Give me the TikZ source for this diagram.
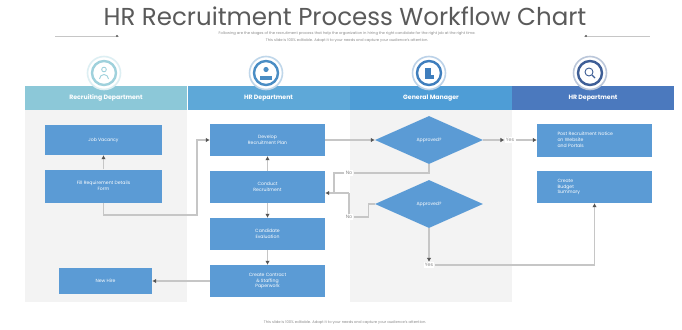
\documentclass[tikz,border=0pt]{standalone}
\usepackage{fontspec}
\setmainfont{Poppins}
\usetikzlibrary{shapes.geometric,arrows.meta}
\definecolor{titlegray}{HTML}{5A5A5A}
\definecolor{subgray}{HTML}{8A8A8A}
\definecolor{hA}{HTML}{8CC8D8}
\definecolor{hB}{HTML}{5EA8D8}
\definecolor{hC}{HTML}{4E9DD6}
\definecolor{hD}{HTML}{4B79BE}
\definecolor{rA}{HTML}{9FD1DC}
\definecolor{rB}{HTML}{4A8DC4}
\definecolor{rC}{HTML}{3F7EBD}
\definecolor{rD}{HTML}{3E5E96}
\definecolor{boxblue}{HTML}{5B9BD5}
\definecolor{bodygray}{HTML}{F3F3F3}
\definecolor{linegray}{HTML}{C6C6C6}
\definecolor{headgray}{HTML}{555555}
\tikzset{
  procbox/.style={rectangle, fill=boxblue, text=white, align=center, inner sep=0pt,
    font=\fontsize{4.6}{5.8}\selectfont},
  decbox/.style={diamond, aspect=2.25, fill=boxblue, text=white, inner sep=0pt,
    minimum width=108pt, minimum height=48pt, font=\fontsize{4.6}{5.8}\selectfont},
  headband/.style={rectangle, text=white, inner sep=0pt, minimum width=162pt,
    minimum height=24pt, font=\fontsize{6.2}{7}\selectfont\bfseries},
  conn/.style={draw=linegray, line width=1.1pt},
  arr/.style={conn, -{Latex[length=4pt,width=4.5pt,color=headgray]}},
  lbl/.style={fill=white, text=subgray, inner sep=1.2pt, font=\fontsize{4.8}{5.5}\selectfont},
  halo/.style={circle, fill=white, minimum size=33pt, inner sep=0pt, draw=#1!35, line width=1.6pt},
  ring/.style={circle, fill=white, minimum size=24pt, inner sep=0pt, draw=#1, line width=2.4pt},
}
\begin{document}
\begin{tikzpicture}[x=1pt,y=-1pt]
\useasboundingbox (0,0) rectangle (682,329);
\fill[white] (0,0) rectangle (682,329);

% title
\node[text=titlegray, font=\fontsize{24.5}{26}\selectfont] (title) at (345,16) {HR Recruitment Process Workflow Chart};
\node[text=subgray, font=\fontsize{3.7}{6.5}\selectfont, align=center] (subtitle) at (347,37)
  {Following are the stages of the recruitment process that help the organization in hiring the right candidate for the right job at the right time.\\
   This slide is 100\% editable. Adapt it to your needs and capture your audience's attention.};
\draw[linegray, line width=0.6pt] (55,36) -- (119,36);
\fill[headgray] (117,36) circle (1.2pt);
\draw[linegray, line width=0.6pt] (584,36) -- (650,36);
\fill[headgray] (586,36) circle (1.2pt);

% column bodies
\fill[bodygray] (25,110) rectangle (187,302);
\fill[bodygray] (350,110) rectangle (512,302);

% header bands
\node[headband, fill=hA] (hd1) at (106,98) {Recruiting Department};
\node[headband, fill=hB] (hd2) at (268.5,98) {HR Department};
\node[headband, fill=hC] (hd3) at (431,98) {General Manager};
\node[headband, fill=hD] (hd4) at (593,98) {HR Department};

% icons
\foreach \cx/\cc/\nm in {104/rA/ic1, 266/rB/ic2, 429/rC/ic3, 590/rD/ic4}{
  \node[halo=\cc] (\nm h) at (\cx,73) {};
  \node[ring=\cc] (\nm) at (\cx,73) {};
}
% icon glyphs
\draw[rA, line width=0.9pt] (104,69.5) circle (2.3pt);
\draw[rA, line width=0.9pt] (99.5,79) arc (180:0:4.5pt);
\fill[rB] (266,69.5) circle (2.6pt);
\fill[rB] (260,79.5) rectangle (272,76);
\fill[rC] (425,67.5) rectangle (431,78.5);
\fill[rC] (431,75) rectangle (434,78.5);
\draw[rD, line width=0.9pt] (589,72) circle (4pt);
\draw[rD, line width=1.1pt] (592,75) -- (595,78);

% column 1
\node[procbox, minimum width=117pt, minimum height=30pt] (c1b1) at (103.5,140) {Job Vacancy};
\node[procbox, minimum width=117pt, minimum height=33pt] (c1b2) at (103.5,186) {Fill Requirement Details\\Form};
\node[procbox, minimum width=93pt, minimum height=26pt] (c1b3) at (105.5,281) {New Hire};

% column 2
\node[procbox, minimum width=115pt, minimum height=32pt] (c2b1) at (267.5,140) {Develop\\Recruitment Plan};
\node[procbox, minimum width=115pt, minimum height=32pt] (c2b2) at (267.5,187) {Conduct\\Recruitment};
\node[procbox, minimum width=115pt, minimum height=32pt] (c2b3) at (267.5,234) {Candidate\\Evaluation};
\node[procbox, minimum width=115pt, minimum height=32pt] (c2b4) at (267.5,281) {Create Contract\\\& Staffing\\Paperwork};

% column 3
\node[decbox] (d1) at (429,140) {Approved?};
\node[decbox] (d2) at (429,204) {Approved?};

% column 4
\node[procbox, minimum width=115pt, minimum height=33pt, text width=74pt, align=left] (c4b1) at (594.5,140)
  {Post Recruitment Notice\\on Website\\and Portals};
\node[procbox, minimum width=115pt, minimum height=32pt, text width=74pt, align=left] (c4b2) at (594.5,187)
  {Create\\Budget\\Summary};

% connectors
\draw[arr] (c1b2) -- (c1b1);
\coordinate (k1) at (197,215);
\draw[arr] (c1b2.south) |- (k1) |- (c2b1.west);
\draw[arr] (c2b2) -- (c2b1);
\draw[arr] (c2b2) -- (c2b3);
\draw[arr] (c2b3) -- (c2b4);
\draw[arr] (c2b4) -- (c1b3);
\draw[arr] (c2b1) -- (d1);

\node[lbl] (yes1) at (510,140) {Yes};
\draw[arr] (d1.east) -- (yes1.west);
\draw[arr] (yes1.east) -- (c4b1.west);

\node[lbl] (no1) at (349,173) {No};
\node[lbl] (no2) at (349,217) {No};
\coordinate (k2) at (349,193);
\coordinate (k3) at (334,173);
\draw[conn] (d1.south) |- (no1.east);
\draw[conn] (no1.west) -- (k3) -- (k3 |- k2);
\draw[conn] (d2.west) -- ++(-6,0) |- (no2.east);
\draw[conn] (no2.north) -- (k2);
\draw[arr] (k2) -- (c2b2.east |- k2);

\node[lbl] (yes2) at (429,265) {Yes};
\draw[arr] (d2.south) -- (yes2.north);
\draw[arr] (yes2.east) -| (c4b2.south);

% footer
\node[text=subgray, font=\fontsize{3.7}{4.5}\selectfont] (footer) at (345,323)
  {This slide is 100\% editable. Adapt it to your needs and capture your audience's attention.};
\end{tikzpicture}
\end{document}
